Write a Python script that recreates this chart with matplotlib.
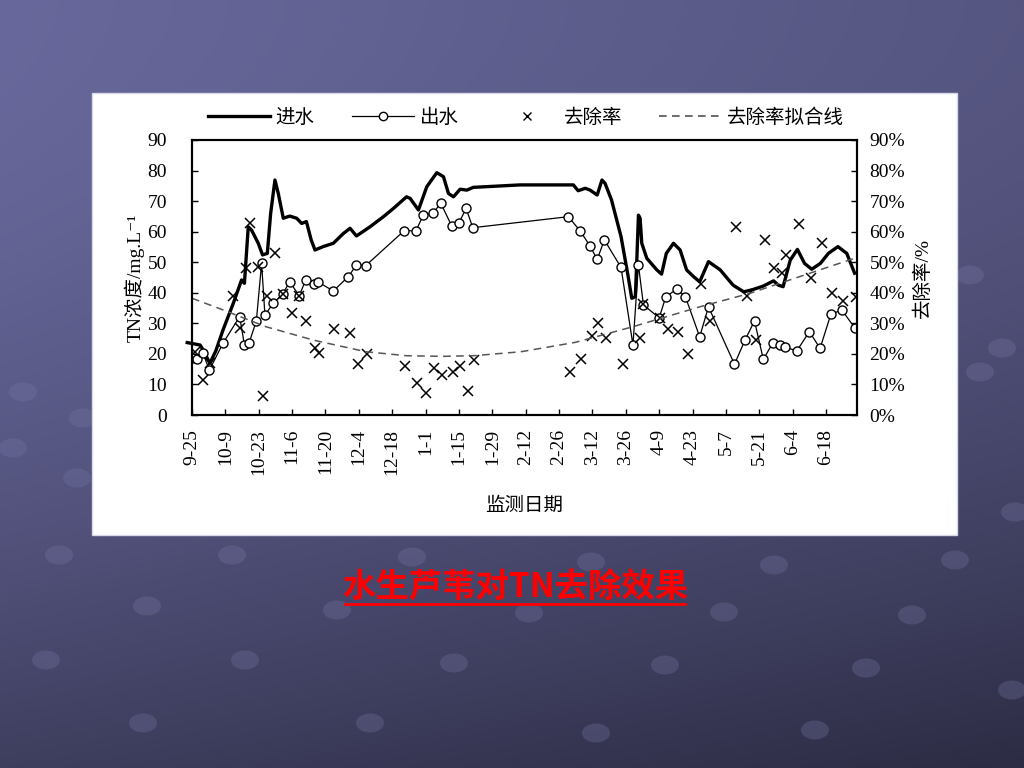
import numpy as np
import matplotlib
matplotlib.use('Agg')
import matplotlib.pyplot as plt
from matplotlib.lines import Line2D
from matplotlib.patches import Rectangle, Ellipse

plt.rcParams['font.family'] = ['Liberation Serif', 'Noto Sans CJK SC', 'DejaVu Sans']

# 日期: 以 9-25 为第 0 天
tick_labels = ['9-25', '10-9', '10-23', '11-6', '11-20', '12-4', '12-18', '1-1', '1-15', '1-29',
               '2-12', '2-26', '3-12', '3-26', '4-9', '4-23', '5-7', '5-21', '6-4', '6-18']
tick_days = np.arange(0, 14 * len(tick_labels), 14)

# 进水 TN (mg/L)
in_days = [-2, 3.4, 4.5, 7.5, 10, 13, 17.3, 20.8, 22, 23.6, 25, 27.8, 29.6, 31.6, 33, 34.8, 36.2,
           38.3, 41, 43.9, 46, 48, 50, 51.6, 55, 59.3, 63.5, 66.3, 69, 74.7, 80.3, 84.5, 90, 91.5,
           95, 98.5, 102.7, 105.5, 107.6, 109.7, 112.5, 115.3, 118, 137.6, 160, 162, 165, 167, 170,
           172, 173.3, 176, 180, 183, 184.5, 186, 186.6, 187.3, 188, 188.7, 190.8, 195, 197, 199,
           202, 204.8, 207.5, 210.4, 213, 216.7, 221.6, 227, 231.5, 235.5, 239.7, 244, 246, 248,
           251, 254, 257, 260, 263.6, 267, 271, 274.7, 278]
in_tn = [23.7, 22.9, 21.5, 16.9, 21, 27.8, 36.5, 44.2, 43.1, 61.6, 60.5, 56.2, 52.4, 52.9, 66, 76.9,
         72.5, 64.4, 65.1, 64.4, 62.7, 63.3, 57.3, 54, 55.1, 56.2, 59.4, 61.1, 58.6, 61.6, 64.9, 67.6,
         71.4, 70.9, 67.1, 74.7, 79.3, 78, 72.5, 71.4, 73.9, 73.6, 74.5, 75.3, 75.3, 73.4, 74.2, 73.6,
         72, 76.9, 75.8, 70.4, 58.4, 45.3, 38.2, 38.7, 50.2, 65.4, 64.4, 56.2, 51.3, 47.5, 46.1, 52.9,
         56.2, 54, 47.5, 45.3, 43.6, 50.2, 47.5, 42.5, 40.3, 41.1, 42.2, 43.9, 42.5, 42, 50.7, 54.2,
         49.6, 47.7, 49.6, 52.9, 55.1, 52.9, 46.4]

# 出水 TN (mg/L)
out_days = [-0.1, 2, 4.5, 7.3, 13, 20, 22, 24, 27, 29.2, 30.6, 34, 38, 41, 45, 47.7, 51, 52.7, 59.3,
            65.6, 69, 72.9, 89, 94, 97, 101, 104.4, 109, 112, 115, 117.8, 157.9, 162.8, 167, 170,
            173, 180, 185, 187.3, 189.4, 196, 198.8, 203.4, 207, 213, 216.7, 227.6, 232, 236,
            239.7, 243.6, 246.5, 248.6, 253.7, 259, 263.5, 268, 272.6, 278]
out_tn = [18.8, 18.2, 20.4, 14.7, 23.5, 32.2, 22.9, 23.7, 30.8, 49.6, 32.7, 36.5, 39.6, 43.6, 39,
          44.2, 42.8, 43.6, 40.6, 45.3, 49.1, 48.9, 60.3, 60.3, 65.4, 66, 69.3, 61.8, 62.9, 67.6,
          61.3, 64.9, 60.3, 55.3, 50.9, 57.3, 48.3, 22.9, 49.1, 36, 31.8, 38.7, 41.2, 38.7, 25.6,
          35.4, 16.6, 24.5, 30.8, 18.2, 23.5, 22.9, 22.4, 20.9, 27.3, 21.8, 32.9, 34.4, 28.6]

# 去除率 (%)
rem_days = [1.3, 4.5, 7.5, 17.3, 20, 22.7, 24.3, 27.6, 29.6, 31.6, 34.8, 38.3, 42, 45, 48, 51.6,
            53.4, 59.7, 66.3, 69.5, 73.3, 89.4, 94.6, 98, 101.5, 105, 109.4, 112.5, 116, 118.3,
            158.6, 163.2, 167.7, 170.5, 173.7, 180.7, 188, 189.4, 196.4, 199.5, 203.8, 207.9,
            213.6, 217.4, 228.3, 232.8, 236.6, 240.5, 244.3, 247.5, 249.3, 254.8, 259.8, 264.3,
            268.7, 273.3, 278.6]
rem_rate = [20.7, 11.5, 17.1, 39, 28.4, 48, 62.9, 48.5, 6.2, 39, 53.1, 39.5, 33.5, 39, 30.8, 21.8,
            20.4, 28.1, 26.7, 16.6, 19.9, 16.1, 10.4, 7.3, 15.3, 13.1, 14.2, 16.1, 8, 18,
            14.2, 18.2, 26, 30.2, 25.1, 16.6, 25.1, 36.2, 31.8, 28.1, 27.1, 19.9,
            42.8, 30.8, 61.4, 39, 24.5, 57.3, 48, 46.4, 52.4, 62.4, 44.7, 56.2,
            40, 37.3, 38.7]

# 去除率拟合线 (%)
fit_days = [0, 13, 31, 51, 73, 90, 105, 118, 138, 161, 185, 213, 234, 255, 278]
fit_rate = [38.2, 34.4, 28.9, 24.5, 20.7, 19.4, 19.2, 19.4, 20.7, 23.8, 28.9, 35.4, 39.8, 45.3, 51.3]

fig = plt.figure(figsize=(10.24, 7.68), dpi=100)

# 背景
bg = fig.add_axes([0, 0, 1, 1])
yy, xx = np.mgrid[0:1:300j, 0:1:300j]
t = np.clip(0.3 * xx + 0.7 * yy ** 1.8, 0, 1)
c0 = np.array([0x68, 0x68, 0x9c]) / 255
c1 = np.array([0x2c, 0x2c, 0x44]) / 255
bg.imshow(c0 + (c1 - c0) * t[..., None], extent=[0, 1024, 768, 0], aspect='auto')
bg.set_xlim(0, 1024)
bg.set_ylim(768, 0)
bg.axis('off')

dots = [(59, 555), (232, 555), (412, 557), (591, 562), (774, 565), (955, 560),
        (147, 606), (337, 610), (529, 613), (724, 612), (912, 615),
        (46, 660), (245, 660), (454, 663), (665, 665), (866, 668),
        (143, 723), (370, 723), (596, 733), (815, 730), (1012, 690),
        (970, 275), (1002, 348), (980, 372), (1015, 512),
        (23, 392), (83, 418), (13, 448), (77, 478)]
for dx, dy in dots:
    bg.add_patch(Ellipse((dx, dy), 28, 19, color='#7878a6', alpha=0.3, lw=0))

bg.add_patch(Rectangle((92, 93), 865, 442, facecolor='white', edgecolor='#d8d8e8', lw=1))

bg.text(515, 588, '水生芦苇对TN去除效果', color='#ff0000', fontsize=24, fontweight='bold',
        ha='center', va='center', family=['Noto Sans CJK SC'])
bg.plot([345, 685], [604, 604], color='#ff0000', lw=2)

# 图表
ax = fig.add_axes([192 / 1024, (768 - 415) / 768, (857 - 192) / 1024, 275 / 768])
ax.plot(in_days, in_tn, color='black', lw=2.4, clip_on=False)
ax.plot(out_days, out_tn, color='black', lw=0.9, marker='o', ms=6.5, mfc='white', mec='black', mew=1)
ax.set_xlim(0, 279)
ax.set_ylim(0, 90)
ax.set_yticks(range(0, 91, 10))
ax.set_xticks(tick_days)
ax.set_xticklabels(tick_labels, rotation=90)
ax.tick_params(axis='x', direction='in', length=4, width=1, labelsize=14, pad=10)
ax.tick_params(axis='y', direction='in', length=4, width=1, labelsize=14, pad=18)
ax.set_xlabel('监测日期', fontsize=14, labelpad=16)
ax.set_ylabel('TN浓度/mg.L⁻¹', fontsize=14, labelpad=2)
for s in ax.spines.values():
    s.set_linewidth(1.5)

ax2 = ax.twinx()
ax2.plot(rem_days, rem_rate, ls='none', marker='x', ms=6.5, mew=1.1, color='black')
ax2.plot(fit_days, fit_rate, ls=(0, (5, 3.5)), lw=1.1, color='#555555')
ax2.set_ylim(0, 90)
ax2.set_yticks(range(0, 91, 10))
ax2.set_yticklabels([f'{v}%' for v in range(0, 91, 10)])
ax2.tick_params(axis='y', direction='in', length=4, width=1, labelsize=14, pad=9)
ax2.set_ylabel('去除率/%', fontsize=14, labelpad=6)
for s in ax2.spines.values():
    s.set_linewidth(1.5)

handles = [Line2D([], [], color='black', lw=2.4),
           Line2D([], [], color='black', lw=0.9, marker='o', ms=6, mfc='white', mec='black'),
           Line2D([], [], ls='none', marker='x', ms=5.5, mew=1, color='black'),
           Line2D([], [], color='#444444', lw=1.1, ls=(0, (5, 3.5)))]
fig.legend(handles, ['进水', '出水', '去除率', '去除率拟合线'], loc='center',
           bbox_to_anchor=(526 / 1024, 1 - 118 / 768), ncol=4, frameon=False, fontsize=14,
           handlelength=3.2, handletextpad=0.3, columnspacing=1.9)

fig.savefig('out.png', dpi=100)
